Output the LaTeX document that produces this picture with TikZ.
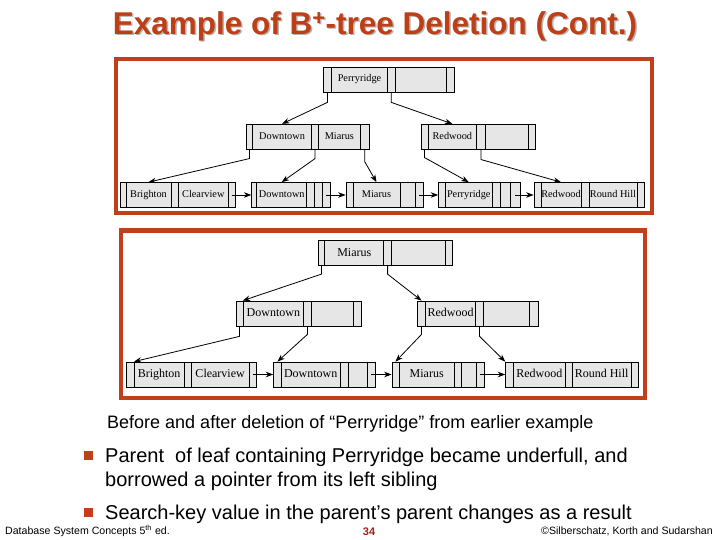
\documentclass[tikz,border=0pt]{standalone}
\usepackage{fontspec}
\setmainfont{Liberation Sans}
\newfontfamily\treefont{Liberation Serif}
\usetikzlibrary{arrows.meta}
\definecolor{slidered}{RGB}{192,64,28}
\definecolor{titlered}{RGB}{190,62,22}
\definecolor{pagered}{RGB}{150,40,20}
\definecolor{cellfill}{RGB}{230,230,230}
\definecolor{shadowgray}{RGB}{180,180,180}
\tikzset{
 cell/.style={draw=black, fill=cellfill, line width=0.7pt, inner sep=0pt,
        minimum height=25pt},
 cell before/.style={cell, text height=7.2pt, text depth=2.2pt,
        font=\treefont\fontsize{10.3}{12}\selectfont},
 cell after/.style={cell, text height=8.4pt, text depth=2.6pt,
        font=\treefont\fontsize{12}{14}\selectfont},
 ptr/.style={draw=black, line width=0.8pt, -{Stealth[length=7.5pt,width=5.5pt]}},
 frame/.style={draw=slidered, line width=4pt},
 bullet/.style={fill=slidered, minimum size=9pt, inner sep=0pt},
 title/.style={anchor=base, inner sep=0pt, text=titlered,
        font=\fontsize{31.5}{36}\selectfont\bfseries},
 slidetext/.style={anchor=base west, inner sep=0pt,
          font=\fontsize{20}{24}\selectfont},
 foot/.style={anchor=base west, inner sep=0pt, font=\fontsize{10.6}{12}\selectfont},
}

\begin{document}
\begin{tikzpicture}[x=1pt, y=-1pt]
\useasboundingbox (0,0) rectangle (720,540);
\fill[white] (0,0) rectangle (720,540);
% title with its drop shadow
\node[title, text=shadowgray] (tshadow) at (376.5,36)
 {Example of B\textsuperscript{+}-tree Deletion (Cont.)};
\node[title] (title) at (375,34.5)
 {Example of B\textsuperscript{+}-tree Deletion (Cont.)};
% the two figure frames
\draw[frame] (115.5,59.5) rectangle (652,213.5);
\draw[frame] (121,230.5) rectangle (645,397.5);
% tree before deletion: name / centre y / cells (left/right/key)
\foreach \n/\y/\cells in {
 broot/79.5/{323.3/331.7/{}, 331.7/387.3/Perryridge, 387.3/395/{}, 395/446.7/{}, 446.7/454/{}},
 bmidl/136.7/{246.6/252.5/{}, 252.5/311.6/Downtown, 311.6/318.5/{}, 318.5/360.3/Miarus, 360.3/369/{}},
 bmidr/136.7/{421/428/{}, 428/476.7/Redwood, 476.7/485.4/{}, 485.4/528.8/{}, 528.8/535.8/{}},
 bleafa/195/{120/126/{}, 126/171/Brighton, 171/178.3/{}, 178.3/228.3/Clearview, 228.3/235/{}},
 bleafb/195/{251.7/256.7/{}, 256.7/306.7/Downtown, 306.7/314/{}, 314/322.7/{}, 322.7/330/{}},
 bleafc/195/{346/353/{}, 353/400/Miarus, 400/415/{}, 415/423/{}},
 bleafd/195/{438.5/445.5/{}, 445.5/492/Perryridge, 492/500/{}, 500/510/{}, 510/520/{}},
 bleafe/195/{534/541/{}, 541/581/Redwood, 581/589/{}, 589/637/{Round Hill}, 637/644/{}}%
}{
 \foreach \a/\b/\t [count=\i] in \cells {
  \node[cell before, minimum width={(\b-\a)*1pt}] (\n\i) at ({(\a+\b)/2},\y) {\t};
 }
}
\draw[ptr] (broot1.south) -- ++(0,10) -- (bmidl2.north);
\draw[ptr] (broot3.south) -- ++(0,10) -- (bmidr2.north);
\draw[ptr] (bmidl1.south) -- ++(0,9) -- (bleafa2.north);
\draw[ptr] (bmidl3.south) -- ++(0,9) -- (bleafb2.north);
\draw[ptr] (bmidl5.south) -- ++(0,12) -- (bleafc2.north);
\draw[ptr] (bmidr1.south) -- ++(0,8) -- (bleafd2.north);
\draw[ptr] (bmidr3.south) -- ++(0,10) -- (bleafe2.north);
\draw[ptr] (bleafa5.center) -- (bleafb1.west);
\draw[ptr] (bleafb5.center) -- (bleafc1.west);
\draw[ptr] (bleafc4.center) -- (bleafd1.west);
\draw[ptr] (bleafd5.center) -- (bleafe1.west);
% tree after deletion
\foreach \n/\y/\cells in {
 aroot/253.3/{318/324.8/{}, 324.8/383.8/Miarus, 383.8/391.4/{}, 391.4/445.3/{}, 445.3/452.8/{}},
 amidl/313.5/{236.1/243/{}, 243/303.7/Downtown, 303.7/311.2/{}, 311.2/353.8/{}, 353.8/361.3/{}},
 amidr/313.5/{417.6/425.5/{}, 425.5/475.6/Redwood, 475.6/483.5/{}, 483.5/529.5/{}, 529.5/538/{}},
 aleafa/374.5/{126.7/134.3/{}, 134.3/184/Brighton, 184/191/{}, 191/249.3/Clearview, 249.3/256.7/{}},
 aleafb/374.5/{273.6/281.2/{}, 281.2/340.2/Downtown, 340.2/348.7/{}, 348.7/367.5/{}, 367.5/375/{}},
 aleafc/374.5/{392/398.9/{}, 398.9/454.5/Miarus, 454.5/461.3/{}, 461.3/476.7/{}, 476.7/484.2/{}},
 aleafd/374.5/{505.6/513.5/{}, 513.5/565.3/Redwood, 565.3/572.2/{}, 572.2/631/{Round Hill}, 631/638/{}}%
}{
 \foreach \a/\b/\t [count=\i] in \cells {
  \node[cell after, minimum width={(\b-\a)*1pt}] (\n\i) at ({(\a+\b)/2},\y) {\t};
 }
}
\draw[ptr] (aroot1.south) -- ++(0,8) -- (amidl2.north west);
\draw[ptr] (aroot3.south) -- ++(0,8) -- (amidr1.north);
\draw[ptr] (amidl1.south) -- ++(0,10) -- (aleafa2.north west);
\draw[ptr] (amidl3.south) -- ++(0,8) -- (aleafb1.north);
\draw[ptr] (amidr1.south) -- ++(0,8) -- (aleafc1.north);
\draw[ptr] (amidr3.south) -- ++(0,10) -- (aleafd1.north west);
\draw[ptr] (aleafa5.center) -- (aleafb1.west);
\draw[ptr] (aleafb5.center) -- (aleafc1.west);
\draw[ptr] (aleafc5.center) -- (aleafd1.west);
% caption and bullets
\node[slidetext, font=\fontsize{18}{21}\selectfont] (caption) at (107,428)
 {Before and after deletion of “Perryridge” from earlier example};
\node[bullet] (bul1) at (88.5,455.5) {};
\node[slidetext] (line1) at (105,462) {Parent\ \ of leaf containing Perryridge became underfull, and};
\node[slidetext] (line2) at (105,486) {borrowed a pointer from its left sibling};
\node[bullet] (bul2) at (88.5,512.5) {};
\node[slidetext] (line3) at (105,519) {Search-key value in the parent’s parent changes as a result};
% footer
\node[foot] (book) at (5,534) {Database System Concepts 5\textsuperscript{th} ed.};
\node[foot, anchor=base, text=pagered, font=\fontsize{11}{12}\selectfont\bfseries] (page) at (369,535) {34};
\node[foot, anchor=base east] (authors) at (713,534) {©Silberschatz, Korth and Sudarshan};
\end{tikzpicture}
\end{document}
